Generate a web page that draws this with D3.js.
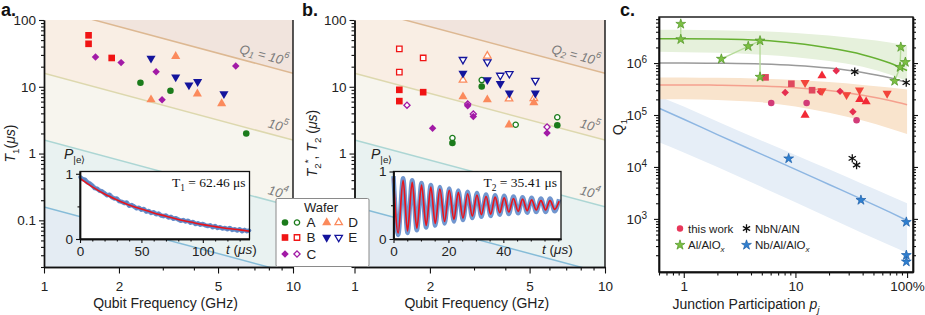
<!DOCTYPE html>
<html>
<head>
<meta charset="utf-8">
<script src="https://cdn.jsdelivr.net/npm/d3@7"></script>
<style>
  body { margin: 0; background: #fff; }
  svg { font-family: "Liberation Sans", Arial, sans-serif; }
</style>
</head>
<body>
<svg id="fig" width="925" height="315"></svg>
<script>
// ---------- values ----------
// panel a: T1 (us) against qubit frequency (GHz), one list per wafer
var t1_A = [[2.44, 11.5], [3.22, 8.7], [6.49, 2.0]];
var t1_B = [[1.51, 59], [1.51, 44], [1.87, 27]];
var t1_C = [[1.61, 28], [2.04, 23], [2.82, 16.8], [2.98, 6.4], [5.89, 20.5]];
var t1_D = [[3.38, 28.6], [2.69, 6.4], [4.13, 7.85], [5.17, 5.6]];
var t1_E = [[2.69, 26.7], [3.38, 14], [3.82, 10.6], [4.14, 11.9], [5.28, 7.85]];

// panel b: T2* (filled) and T2 (open)
var t2s_A = [[2.46, 1.44], [3.22, 10.1], [6.45, 2.65]];
var t2s_B = [[1.51, 9.0], [1.51, 6.1], [1.88, 8.3]];
var t2s_C = [[2.05, 2.4], [2.83, 5.2], [2.98, 3.6], [5.87, 2.03]];
var t2s_D = [[2.71, 7.1], [3.39, 6.4], [4.14, 2.7], [5.2, 5.8]];
var t2s_E = [[2.71, 15.9], [3.39, 12.7], [3.82, 11.1], [4.15, 8.0], [5.27, 8.0]];
var t2_A = [[2.46, 1.71], [3.22, 12.6], [4.4, 2.7], [6.45, 3.5]];
var t2_B = [[1.51, 36.9], [1.51, 16.6], [1.88, 27]];
var t2_C = [[1.62, 5.3], [2.83, 5.5], [2.98, 3.9], [5.87, 2.5]];
var t2_D = [[3.39, 29], [2.71, 12.6], [4.14, 6.6], [5.2, 6.7]];
var t2_E = [[2.71, 25.5], [3.39, 23.5], [3.82, 14.8], [4.15, 15.7], [5.27, 12.4]];

var wafers = ["A", "B", "C", "D", "E"];
var waferColor = ["#1b7b1b", "#f01414", "#a21aa6", "#fb8a5c", "#14149c"];
var waferShape = ["circle", "square", "diamond", "triUp", "triDown"];

// quality factor contours drawn in a and b
var qLevels = [1e3, 1e4, 1e5, 1e6];
var qBandFill = ["#e4ecf3", "#e9f2f1", "#f7f5ee", "#f9eee4", "#f1e4dd"];
var qLineColor = ["#86bcd8", "#acd6d4", "#ddd8ae", "#ddb892"];

// inset a: excited state population decay
var decayT = d3.range(0, 140, 2);
var decayP = [0.95, 0.92, 0.91, 0.87, 0.85, 0.82, 0.78, 0.77, 0.74, 0.73,
              0.70, 0.67, 0.68, 0.64, 0.62, 0.62, 0.58, 0.57, 0.55, 0.56,
              0.51, 0.52, 0.50, 0.47, 0.48, 0.45, 0.46, 0.42, 0.43, 0.40,
              0.41, 0.38, 0.39, 0.36, 0.35, 0.36, 0.33, 0.34, 0.31, 0.32,
              0.30, 0.28, 0.29, 0.27, 0.28, 0.25, 0.26, 0.23, 0.24, 0.22,
              0.23, 0.21, 0.20, 0.21, 0.18, 0.20, 0.17, 0.18, 0.16, 0.17,
              0.15, 0.17, 0.14, 0.15, 0.13, 0.15, 0.12, 0.14, 0.12, 0.13];
var decayFitT = [0, 10, 20, 30, 40, 50, 60, 70, 80, 90, 100, 110, 120, 130, 138];
var decayFitP = [0.93, 0.80, 0.69, 0.60, 0.52, 0.46, 0.40, 0.35, 0.30, 0.26, 0.22, 0.19, 0.16, 0.14, 0.12];

// inset b: Ramsey fringes, turning points only
var ramseyT = [0, 1.7, 3.5, 5.1, 6.8, 8.5, 10.2, 11.9, 13.6, 15.2, 16.9, 18.6, 20.3, 22.0, 23.6, 25.3,
               27.0, 28.7, 30.4, 32.0, 33.7, 35.4, 37.0, 38.7, 40.3, 42.0, 43.7, 45.4, 47.0, 48.7,
               50.3, 52.0, 53.7, 55.4, 57.0, 58.7, 60.3];
var ramseyFit = [0.90, 0.09, 0.87, 0.12, 0.84, 0.16, 0.80, 0.20, 0.77, 0.23, 0.74, 0.26, 0.72, 0.29,
                 0.69, 0.31, 0.67, 0.34, 0.65, 0.36, 0.63, 0.37, 0.62, 0.39, 0.61, 0.40, 0.60, 0.41,
                 0.59, 0.42, 0.58, 0.43, 0.57, 0.43, 0.57, 0.44, 0.56];
var ramseyData = [0.93, 0.06, 0.90, 0.09, 0.87, 0.13, 0.83, 0.17, 0.80, 0.20, 0.77, 0.23, 0.75, 0.26,
                  0.72, 0.28, 0.70, 0.31, 0.68, 0.33, 0.66, 0.34, 0.65, 0.36, 0.64, 0.37, 0.63, 0.38,
                  0.62, 0.39, 0.61, 0.40, 0.60, 0.40, 0.60, 0.41, 0.59];

// panel c: Q1 against junction participation (%)
var tw_circle = [[6.07, 1.7e5], [12.6, 1.7e5], [35.3, 7.9e4]];
var tw_square = [[5.4, 5.3e5], [9.2, 4.0e5], [14.1, 3.0e5]];
var tw_diamond = [[8.1, 2.7e5], [16.7, 2.8e5], [23.2, 7.1e5], [25.1, 2.85e5], [32.7, 1.15e5]];
var tw_triUp = [[12.2, 1.0e5], [17.3, 5.7e5], [37.7, 2.0e5], [43, 1.8e5]];
var tw_triDown = [[12.2, 4.2e5], [17.3, 2.9e5], [28.7, 2.45e5], [37.5, 3.0e5], [66.3, 2.6e5]];
var twColor = {circle: "#d23b78", square: "#e0485e", diamond: "#e62f4f", triUp: "#f22a36", triDown: "#f2443a"};

var alStars = [[0.94, 5.65e6], [0.94, 2.86e6], [2.17, 1.2e6], [3.78, 2.1e6], [4.82, 2.69e6],
               [4.82, 5.4e5], [87.9, 2.03e6], [96.6, 1.04e6], [86.5, 8.3e5], [77.4, 4.5e5]];
var alLinks = [[0, 1], [2, 3], [3, 4], [4, 5], [6, 8], [9, 8], [8, 7]];
var nbnStars = [[34, 6.8e5], [98.3, 4.2e5], [32.3, 1.46e4], [35.3, 1.09e4]];
var nbStars = [[8.7, 1.45e4], [38.6, 2.3e3], [98.5, 870], [98.5, 200], [98.5, 150]];

var pGrid = [0.6, 1, 2, 5, 10, 20, 40, 70, 100];
var greenFit = [2.95e6, 2.95e6, 2.92e6, 2.75e6, 2.4e6, 1.95e6, 1.45e6, 1.0e6, 7.2e5];
var greenHi = [4.4e6, 4.4e6, 4.3e6, 4.1e6, 3.8e6, 3.4e6, 2.9e6, 2.5e6, 2.2e6];
var greenLo = [1.65e6, 1.62e6, 1.58e6, 1.45e6, 1.3e6, 1.1e6, 8.5e5, 6.0e5, 4.5e5];
var grayFit = [1.0e6, 1.0e6, 0.99e6, 0.96e6, 0.9e6, 0.8e6, 0.66e6, 0.52e6, 0.42e6];
var orangeFit = [3.8e5, 3.8e5, 3.75e5, 3.6e5, 3.35e5, 2.95e5, 2.4e5, 1.9e5, 1.58e5];
var orangeHi = [5.3e5, 5.3e5, 5.2e5, 5.0e5, 4.7e5, 4.3e5, 3.8e5, 3.4e5, 3.1e5];
var orangeLo = [2.0e5, 2.0e5, 1.95e5, 1.75e5, 1.45e5, 1.1e5, 7.8e4, 5.5e4, 4.3e4];
var blueFit = [1.35e5, 8.3e4, 4.2e4, 1.75e4, 9.0e3, 4.6e3, 2.35e3, 1.35e3, 930];
var blueHi = [2.3e5, 1.45e5, 7.5e4, 3.2e4, 1.7e4, 9e3, 4.7e3, 2.8e3, 2.0e3];
var blueLo = [3.0e4, 1.9e4, 1.0e4, 4.1e3, 2.1e3, 1.05e3, 530, 310, 220];

// ---------- drawing ----------
var FONT = "'Liberation Sans', Arial, sans-serif";
var svg = d3.select("#fig");

var xA = d3.scaleLog().domain([1, 10]).range([44, 293]);
var xB = d3.scaleLog().domain([1, 10]).range([354.5, 605]);
var yT = d3.scaleLog().domain([0.02, 100]).range([267, 20]);
var xC = d3.scaleLog().domain([0.6, 113]).range([659, 913]);
var yC = d3.scaleLog().domain([95, 7.7e6]).range([272, 17]);

function minorLog(lo, hi) {
  var out = [];
  for (var e = -3; e < 8; e++) for (var m = 2; m < 10; m++) {
    var v = m * Math.pow(10, e);
    if (v >= lo * 0.999 && v <= hi * 1.001) out.push(v);
  }
  return out;
}

// text with italic / sub / sup pieces
function rich(sel, parts, fs) {
  var cur = 0;
  parts.forEach(function(p) {
    var off = p.sub ? fs * 0.3 : p.sup ? -fs * 0.42 : 0;
    var ts = sel.append("tspan").attr("dy", off - cur).text(p.t);
    cur = off;
    if (p.sub || p.sup) ts.attr("font-size", fs * 0.7);
    if (p.i) ts.attr("font-style", "italic");
  });
  return sel;
}

function styleAxis(g, fs) {
  g.attr("font-family", FONT).attr("font-size", fs);
  g.select(".domain").attr("stroke", "#111").attr("stroke-width", 1.4);
  g.selectAll(".tick line").attr("stroke", "#111").attr("stroke-width", 1.1);
  g.selectAll(".tick text").attr("fill", "#222");
}

function twoAxes(parent, tr, mk, scale, major, minor, fmt, pad, majLen, minLen, fs) {
  var g1 = parent.append("g").attr("transform", tr)
    .call(mk(scale).tickValues(minor).tickSize(minLen).tickFormat("").tickSizeOuter(0));
  styleAxis(g1, fs);
  var g2 = parent.append("g").attr("transform", tr)
    .call(mk(scale).tickValues(major).tickSize(majLen).tickPadding(pad).tickFormat(fmt).tickSizeOuter(0));
  styleAxis(g2, fs);
  return g2;
}

function markPath(shape, size) {
  var type = shape == "circle" ? d3.symbolCircle : (shape == "square" || shape == "diamond") ? d3.symbolSquare : d3.symbolTriangle;
  return d3.symbol(type, size)();
}
function markRot(shape) { return shape == "diamond" ? 45 : shape == "triDown" ? 180 : 0; }
var fillSize = {circle: 34, square: 44, diamond: 28, triUp: 36, triDown: 36};
var openSize = {circle: 22, square: 30, diamond: 19, triUp: 24, triDown: 24};

function drawMarks(g, data, xs, ys, shape, color, open) {
  g.selectAll(null).data(data).join("path")
    .attr("d", markPath(shape, open ? openSize[shape] : fillSize[shape]))
    .attr("transform", function(d) { return "translate(" + xs(d[0]) + "," + ys(d[1]) + ") rotate(" + markRot(shape) + ")"; })
    .attr("fill", open ? "#fff" : color)
    .attr("stroke", open ? color : "none")
    .attr("stroke-width", 1.3);
}

function tOfQ(q, f) { return q / (2 * Math.PI * f * 1e3); }

function qPanel(xs, clipId, qSub, yTitleParts, yTitleX, yPad) {
  var x0 = xs.range()[0], x1 = xs.range()[1], y0 = yT.range()[1], y1 = yT.range()[0];
  svg.append("clipPath").attr("id", clipId).append("rect")
    .attr("x", x0).attr("y", y0).attr("width", x1 - x0).attr("height", y1 - y0);
  var g = svg.append("g").attr("clip-path", "url(#" + clipId + ")");
  var bounds = [1].concat(qLevels).concat([1e9]);
  for (var i = 0; i < bounds.length - 1; i++) {
    var lo = bounds[i], hi = bounds[i + 1];
    g.append("path")
      .attr("d", d3.line()([[xs(1), yT(tOfQ(lo, 1))], [xs(10), yT(tOfQ(lo, 10))],
                            [xs(10), yT(tOfQ(hi, 10))], [xs(1), yT(tOfQ(hi, 1))]]) + "Z")
      .attr("fill", qBandFill[i]);
  }
  qLevels.forEach(function(q, i) {
    g.append("line")
      .attr("x1", xs(1)).attr("y1", yT(tOfQ(q, 1)))
      .attr("x2", xs(10)).attr("y2", yT(tOfQ(q, 10)))
      .attr("stroke", qLineColor[i]).attr("stroke-width", 1.5);
  });
  var ang = Math.atan2(yT(tOfQ(1e6, 10)) - yT(tOfQ(1e6, 1)), xs(10) - xs(1)) * 180 / Math.PI;
  var labs = [[1e6, 7.65, [{t: "Q", i: 1}, {t: qSub, sub: 1, i: 1}, {t: " = 10", i: 1}, {t: "6", sup: 1, i: 1}]],
              [1e5, 8.7, [{t: "10", i: 1}, {t: "5", sup: 1, i: 1}]],
              [1e4, 8.7, [{t: "10", i: 1}, {t: "4", sup: 1, i: 1}]]];
  labs.forEach(function(l) {
    var px = xs(l[1]), py = yT(tOfQ(l[0], l[1])) - 11;
    rich(svg.append("text").attr("text-anchor", "middle").attr("fill", "#7a7a7a")
      .attr("font-size", 13).attr("dominant-baseline", "central")
      .attr("transform", "translate(" + px + "," + py + ") rotate(" + ang + ")"), l[2], 13);
  });
  // frame: left/bottom axes and right edge
  svg.append("line").attr("x1", x1).attr("x2", x1).attr("y1", y0).attr("y2", y1)
    .attr("stroke", "#111").attr("stroke-width", 1.4);
  twoAxes(svg, "translate(0," + y1 + ")", d3.axisBottom, xs, [1, 2, 5, 10], [3, 4, 6, 7, 8, 9],
          d3.format("d"), 8, 6.5, 3.5, 13.5);
  twoAxes(svg, "translate(" + x0 + ",0)", d3.axisLeft, yT, [0.1, 1, 10, 100],
          minorLog(0.02, 100).filter(function(v) { return [0.1, 1, 10, 100].indexOf(v) < 0; }),
          function(d) { return d < 1 ? "0.1" : String(d); }, yPad, 5, 3, 13.5);
  svg.append("text").attr("x", (x0 + x1) / 2 - 3).attr("y", 308).attr("text-anchor", "middle")
    .attr("font-size", 14).attr("fill", "#222").text("Qubit Frequency (GHz)");
  rich(svg.append("text").attr("text-anchor", "middle").attr("font-size", 14).attr("fill", "#222")
    .attr("transform", "translate(" + yTitleX + "," + (y0 + y1) / 2 + ") rotate(-90)"), yTitleParts, 14);
}

qPanel(xA, "clipA", "1", [{t: "T", i: 1}, {t: "1", sub: 1}, {t: "(", }, {t: "μs", i: 1}, {t: ")"}], 15, 3);
qPanel(xB, "clipB", "2", [{t: "T", i: 1}, {t: "2", sub: 1}, {t: "*", sup: 1}, {t: ", "}, {t: "T", i: 1}, {t: "2", sub: 1}, {t: " ("}, {t: "μs", i: 1}, {t: ")"}], 317, 3);

// insets
function inset(ix, iy, xMajor, xMinor, pLabelX, tLabelX, fitParts) {
  var g = svg.append("g");
  var x0 = ix.range()[0], x1 = ix.range()[1], yb = iy.range()[0], yt = iy.range()[1];
  g.append("rect").attr("x", x0).attr("y", yt).attr("width", x1 - x0).attr("height", yb - yt)
    .attr("fill", "#fff");
  var body = g.append("g");
  twoAxes(g, "translate(0," + yb + ")", d3.axisBottom, ix, xMajor, xMinor, d3.format("d"), 3, 4, 2.5, 13.5);
  twoAxes(g, "translate(" + x0 + ",0)", d3.axisLeft, iy, [0, 1], [0.5], d3.format("d"), 3, 4, 2.5, 13.5);
  g.append("rect").attr("x", x0).attr("y", yt).attr("width", x1 - x0).attr("height", yb - yt)
    .attr("fill", "none").attr("stroke", "#111").attr("stroke-width", 1.3);
  rich(g.append("text").attr("x", pLabelX).attr("y", yt - 13).attr("font-size", 14).attr("fill", "#222"),
       [{t: "P", i: 1}, {t: "|e⟩", sub: 1}], 14);
  rich(g.append("text").attr("x", tLabelX).attr("y", yb + 15).attr("font-size", 13.5).attr("fill", "#222"),
       [{t: "t", i: 1}, {t: " ("}, {t: "μs", i: 1}, {t: ")"}], 13.5);
  rich(g.append("text").attr("x", x1 - 4).attr("y", yt + 15).attr("text-anchor", "end")
    .attr("font-family", "'Liberation Serif', 'DejaVu Serif', serif").attr("font-size", 13.5).attr("fill", "#111"),
    fitParts, 13.5);
  return body;
}

var ixA = d3.scaleLinear().domain([0, 138]).range([80, 249.5]);
var iyA = d3.scaleLinear().domain([0, 1.035]).range([239, 171.5]);
var bodyA = inset(ixA, iyA, [0, 50, 100], [10, 20, 30, 40, 60, 70, 80, 90, 110, 120, 130], 64, 226,
                  [{t: "T"}, {t: "1", sub: 1}, {t: " = 62.46 μs"}]);
bodyA.append("path").datum(decayP)
  .attr("d", d3.line().x(function(d, i) { return ixA(decayT[i]); }).y(function(d) { return iyA(d); }))
  .attr("fill", "none").attr("stroke", "#7196cf").attr("stroke-width", 4.5).attr("stroke-linejoin", "round");
bodyA.selectAll(null).data(decayP).join("circle")
  .attr("cx", function(d, i) { return ixA(decayT[i]); }).attr("cy", function(d) { return iyA(d); })
  .attr("r", 1.8).attr("fill", "#5d84c4");
bodyA.append("path").datum(decayFitP)
  .attr("d", d3.line().x(function(d, i) { return ixA(decayFitT[i]); }).y(function(d) { return iyA(d); }).curve(d3.curveCatmullRom))
  .attr("fill", "none").attr("stroke", "#e8141c").attr("stroke-width", 1.6);

var ixB = d3.scaleLinear().domain([0, 61]).range([393.5, 561]);
var iyB = d3.scaleLinear().domain([0, 1.0]).range([239, 171.5]);
var bodyB = inset(ixB, iyB, [0, 20, 40], [5, 10, 15, 25, 30, 35, 45, 50, 55, 60], 371, 542,
                  [{t: "T"}, {t: "2", sub: 1}, {t: " = 35.41 μs"}]);
bodyB.append("path").datum(ramseyData)
  .attr("d", d3.line().x(function(d, i) { return ixB(ramseyT[i]); }).y(function(d) { return iyB(d); }).curve(d3.curveMonotoneX))
  .attr("fill", "none").attr("stroke", "#7196cf").attr("stroke-width", 4.5);
bodyB.append("path").datum(ramseyFit)
  .attr("d", d3.line().x(function(d, i) { return ixB(ramseyT[i]); }).y(function(d) { return iyB(d); }).curve(d3.curveMonotoneX))
  .attr("fill", "none").attr("stroke", "#e8141c").attr("stroke-width", 1.7);

// markers in a and b
var t1Sets = [t1_A, t1_B, t1_C, t1_D, t1_E];
var t2sSets = [t2s_A, t2s_B, t2s_C, t2s_D, t2s_E];
var t2Sets = [t2_A, t2_B, t2_C, t2_D, t2_E];
var gA = svg.append("g"), gB = svg.append("g");
wafers.forEach(function(w, i) {
  drawMarks(gA, t1Sets[i], xA, yT, waferShape[i], waferColor[i], false);
  drawMarks(gB, t2Sets[i], xB, yT, waferShape[i], waferColor[i], true);
  drawMarks(gB, t2sSets[i], xB, yT, waferShape[i], waferColor[i], false);
});

// ----- panel c -----
svg.append("clipPath").attr("id", "clipC").append("rect")
  .attr("x", 659).attr("y", 17).attr("width", 254).attr("height", 255);
var gC = svg.append("g").attr("clip-path", "url(#clipC)");
function band(lo, hi, color) {
  gC.append("path").datum(pGrid)
    .attr("d", d3.area().x(function(d) { return xC(d); })
      .y0(function(d, i) { return yC(lo[i]); }).y1(function(d, i) { return yC(hi[i]); })
      .curve(d3.curveMonotoneX))
    .attr("fill", color);
}
function fitLine(vals, color) {
  gC.append("path").datum(pGrid)
    .attr("d", d3.line().x(function(d) { return xC(d); }).y(function(d, i) { return yC(vals[i]); }).curve(d3.curveMonotoneX))
    .attr("fill", "none").attr("stroke", color).attr("stroke-width", 1.5);
}
band(blueLo, blueHi, "#e6eef7");
band(orangeLo, orangeHi, "#f9e4cd");
band(greenLo, greenHi, "#e6f1dc");
fitLine(blueFit, "#8db6e2");
fitLine(orangeFit, "#f5a08e");
fitLine(grayFit, "#9a9a9a");
fitLine(greenFit, "#66b032");

gC.selectAll(null).data(alLinks).join("line")
  .attr("x1", function(d) { return xC(alStars[d[0]][0]); }).attr("y1", function(d) { return yC(alStars[d[0]][1]); })
  .attr("x2", function(d) { return xC(alStars[d[1]][0]); }).attr("y2", function(d) { return yC(alStars[d[1]][1]); })
  .attr("stroke", "#b6db9a").attr("stroke-width", 1.4);

var gCm = svg.append("g");
drawMarks(gCm, tw_circle, xC, yC, "circle", twColor.circle, false);
drawMarks(gCm, tw_square, xC, yC, "square", twColor.square, false);
drawMarks(gCm, tw_diamond, xC, yC, "diamond", twColor.diamond, false);
drawMarks(gCm, tw_triUp, xC, yC, "triUp", twColor.triUp, false);
drawMarks(gCm, tw_triDown, xC, yC, "triDown", twColor.triDown, false);

function asterisk(r) {
  var s = "";
  for (var k = 0; k < 3; k++) {
    var a = k * Math.PI / 3;
    s += "M" + (r * Math.sin(a)) + "," + (-r * Math.cos(a)) + "L" + (-r * Math.sin(a)) + "," + (r * Math.cos(a));
  }
  return s;
}
function stars(data, fill, stroke) {
  gCm.selectAll(null).data(data).join("path")
    .attr("d", d3.symbol(d3.symbolStar, 30)())
    .attr("transform", function(d) { return "translate(" + xC(d[0]) + "," + yC(d[1]) + ")"; })
    .attr("fill", fill).attr("stroke", stroke).attr("stroke-width", 0.7);
}
stars(alStars, "#7cc043", "#4f9424");
stars(nbStars, "#2f7fd0", "#1d5ea8");
gCm.selectAll(null).data(nbnStars).join("path")
  .attr("d", asterisk(4.2))
  .attr("transform", function(d) { return "translate(" + xC(d[0]) + "," + yC(d[1]) + ")"; })
  .attr("fill", "none").attr("stroke", "#111").attr("stroke-width", 1.3);

// frame and axes for c
svg.append("rect").attr("x", 659).attr("y", 17).attr("width", 254).attr("height", 255)
  .attr("fill", "none").attr("stroke", "#111").attr("stroke-width", 1.4);
var qMajor = [1e3, 1e4, 1e5, 1e6];
var qMinor = minorLog(150, 7.7e6).filter(function(v) { return qMajor.indexOf(v) < 0; });
var gy = twoAxes(svg, "translate(659,0)", d3.axisLeft, yC, qMajor, qMinor, d3.format("d"), 7, 5, 3, 13.5);
gy.selectAll(".tick text").each(function(d) {
  var t = d3.select(this).text("10");
  t.append("tspan").attr("dy", "-0.45em").attr("font-size", 10).text(Math.round(Math.log10(d)));
});
twoAxes(svg, "translate(913,0)", d3.axisRight, yC, qMajor, qMinor, "", 3, 5, 3, 13.5);
twoAxes(svg, "translate(0,272)", d3.axisBottom, xC, [1, 10, 100],
        [0.6, 0.7, 0.8, 0.9, 2, 3, 4, 5, 6, 7, 8, 9, 20, 30, 40, 50, 60, 70, 80, 90],
        function(d) { return d == 100 ? "100%" : String(d); }, 3.5, 6, 3.5, 13.5);
rich(svg.append("text").attr("x", 746).attr("y", 309).attr("text-anchor", "middle")
  .attr("font-size", 14).attr("fill", "#222"),
  [{t: "Junction Participation "}, {t: "p", i: 1}, {t: "j", sub: 1, i: 1}], 14);
rich(svg.append("text").attr("text-anchor", "middle").attr("font-size", 14).attr("fill", "#222")
  .attr("transform", "translate(623,127) rotate(-90)"), [{t: "Q"}, {t: "1", sub: 1}], 14);

// legend c
var lc = svg.append("g").attr("font-size", 11.5).attr("fill", "#222");
lc.append("circle").attr("cx", 680).attr("cy", 228.5).attr("r", 3.2).attr("fill", "#e8375a");
lc.append("text").attr("x", 688).attr("y", 232.5).text("this work");
lc.append("path").attr("d", asterisk(4.2)).attr("transform", "translate(746.5,228.5)")
  .attr("stroke", "#111").attr("stroke-width", 1.3);
lc.append("text").attr("x", 755).attr("y", 232.5).text("NbN/AlN");
lc.append("path").attr("d", d3.symbol(d3.symbolStar, 30)()).attr("transform", "translate(680,245)")
  .attr("fill", "#7cc043").attr("stroke", "#4f9424").attr("stroke-width", 0.7);
rich(lc.append("text").attr("x", 688).attr("y", 249), [{t: "Al/AlO"}, {t: "x", sub: 1, i: 1}], 11.5);
lc.append("path").attr("d", d3.symbol(d3.symbolStar, 30)()).attr("transform", "translate(746.5,245)")
  .attr("fill", "#2f7fd0").attr("stroke", "#1d5ea8").attr("stroke-width", 0.7);
rich(lc.append("text").attr("x", 755).attr("y", 249), [{t: "Nb/Al/AlO"}, {t: "x", sub: 1, i: 1}], 11.5);

// wafer legend
var lw = svg.append("g");
lw.append("rect").attr("x", 276).attr("y", 198.5).attr("width", 93).attr("height", 68)
  .attr("fill", "#fff").attr("stroke", "#8a8a8a").attr("stroke-width", 1).attr("rx", 1.5);
lw.append("text").attr("x", 321).attr("y", 211.5).attr("text-anchor", "middle")
  .attr("font-size", 13).attr("fill", "#222").text("Wafer");
var legPos = [[285, 222.5], [285, 237.5], [285, 254], [326.7, 222.5], [326.7, 237.5]];
wafers.forEach(function(w, i) {
  var p = legPos[i];
  drawMarks(lw, [[p[0], p[1]]], function(v) { return v; }, function(v) { return v; }, waferShape[i], waferColor[i], false);
  drawMarks(lw, [[p[0] + 12, p[1]]], function(v) { return v; }, function(v) { return v; }, waferShape[i], waferColor[i], true);
  lw.append("text").attr("x", p[0] + 21.5).attr("y", p[1] + 4.8).attr("font-size", 13.5).attr("fill", "#222").text(w);
});

// panel letters
[["a.", 1], ["b.", 302], ["c.", 620]].forEach(function(l) {
  svg.append("text").attr("x", l[1]).attr("y", 16).attr("font-size", 18).attr("font-weight", "bold")
    .attr("fill", "#111").text(l[0]);
});
</script>
</body>
</html>
